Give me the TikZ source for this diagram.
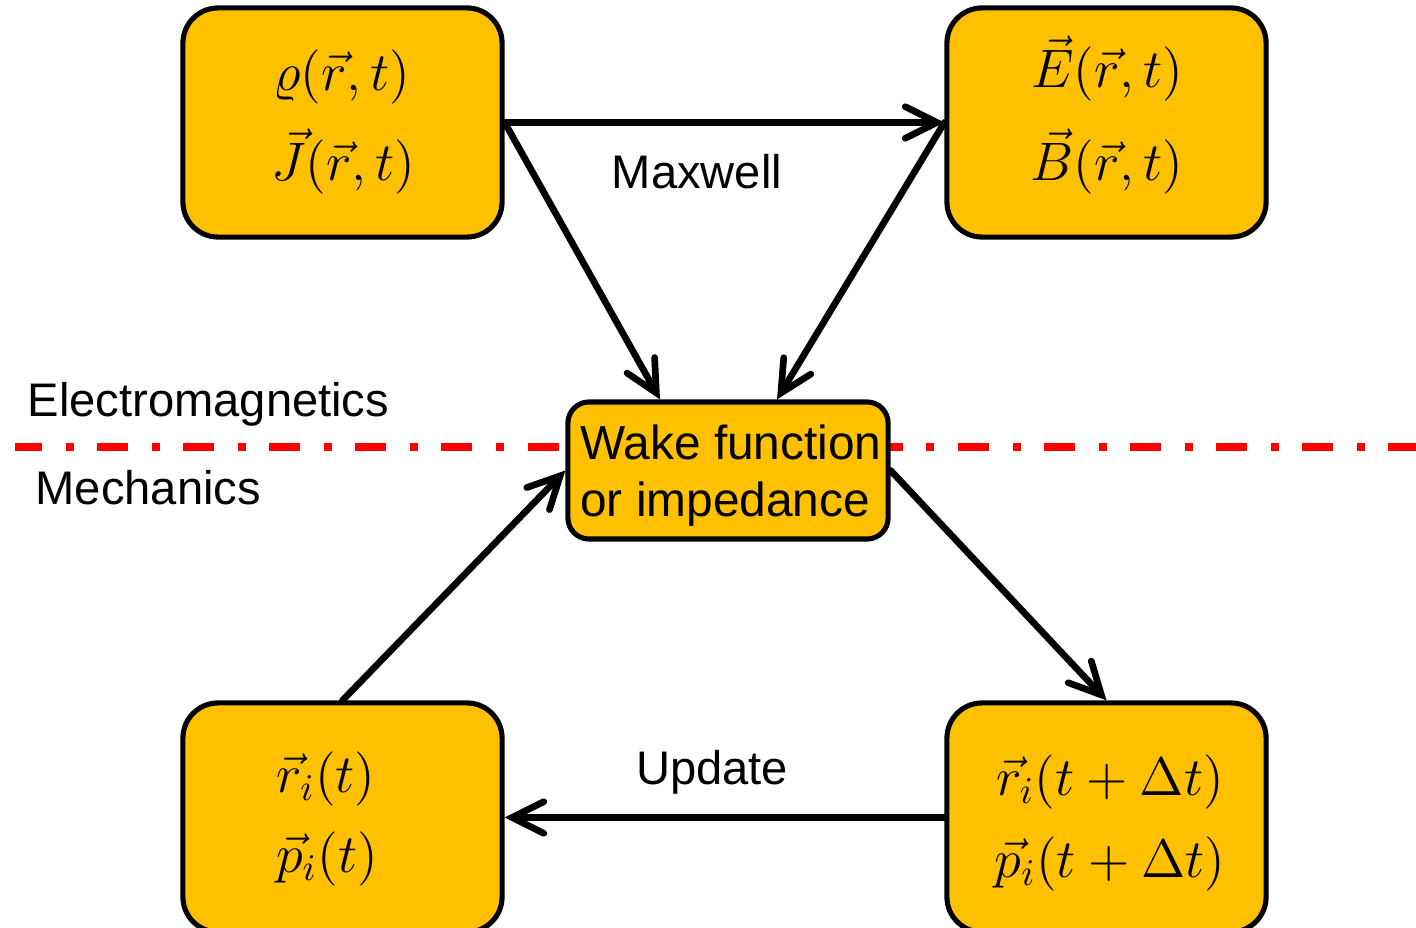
\documentclass[tikz,border=0pt]{standalone}
\usepackage{fontspec}
\setmainfont{Liberation Sans}
\usetikzlibrary{arrows.meta,calc}
\definecolor{boxfill}{HTML}{FFC000}
\definecolor{divider}{HTML}{FF0000}
% slightly enlarged math for the state boxes
\newcommand{\stm}[1]{\scalebox{1.07}{$#1$}}

\begin{document}
\begin{tikzpicture}[x=0.01cm,y=-0.01cm,
  statebox/.style={draw=black, line width=1.45pt, fill=boxfill,
    rounded corners=10pt, minimum width=3.19cm, minimum height=2.29cm,
    inner sep=0pt},
  stateline/.style={inner sep=0pt, anchor=base, font=\fontsize{14.4}{17}\selectfont},
  wakebox/.style={draw=black, line width=1.45pt, fill=boxfill,
    rounded corners=6pt, minimum width=3.2cm, minimum height=1.37cm,
    inner sep=0pt},
  waketext/.style={inner sep=0pt, align=left,
    font=\fontsize{13.6}{16.2}\selectfont},
  flow/.style={line width=1.9pt, line cap=round,
    -{Straight Barb[length=9pt,width=9pt,line cap=round]}},
  lbl/.style={font=\fontsize{13.4}{16}\selectfont, inner sep=0pt}]

\useasboundingbox (0,0) rectangle (1416,928);

% dash-dot divider between the two domains
\draw[divider, line width=2.3pt,
      dash pattern=on 8.82pt off 6.69pt on 2.28pt off 6.69pt, dash phase=1.14pt]
  (15,447) -- (1440,447);

% state boxes
\node[statebox] (src) at (342.5,122.5) {};
\node[statebox] (fld) at (1106.5,122.5) {};
\node[statebox] (now) at (342.5,817.5) {};
\node[statebox] (nxt) at (1106.5,817.5) {};

% their contents
\node[stateline] (rho)  at (342,91)   {\stm{\varrho(\vec r,t)}};
\node[stateline] (cur)  at (343,181)  {\stm{\vec J(\vec r,t)}};
\node[stateline] (efld) at (1107,88)  {\stm{\vec E(\vec r,t)}};
\node[stateline] (bfld) at (1107,181) {\stm{\vec B(\vec r,t)}};
\node[stateline] (rnow) at (326,792.5)  {\stm{\vec r_i(t)}};
\node[stateline] (pnow) at (327,872.5)  {\stm{\vec p_i(t)}};
\node[stateline] (rnxt) at (1110,795.5) {\stm{\vec r_i(t+\Delta t)}};
\node[stateline] (pnxt) at (1110,877.5) {\stm{\vec p_i(t+\Delta t)}};

\node[wakebox] (wake) at (728,470.5) {};
\node[waketext] (waketxt) at (731,476) {Wake function\\or impedance};

% connectors
\draw[flow] (src.east) -- (fld.west);
\draw[flow] (src.east) -- ([xshift=-0.68cm]wake.north);
\draw[flow] (fld.west) -- ([xshift=0.49cm]wake.north);
\draw[flow] (wake.east) -- (nxt.north);
\draw[flow] (now.north) -- (wake.west);
\draw[flow] (nxt.west) -- (now.east);

% labels
\node[lbl] (maxw) at (697,172) {Maxwell};
\node[lbl] (upd) at (712,772) {Update};
\node[lbl, anchor=west] (em) at (27,404) {Electromagnetics};
\node[lbl, anchor=west] (mech) at (35,488) {Mechanics};
\end{tikzpicture}
\end{document}
